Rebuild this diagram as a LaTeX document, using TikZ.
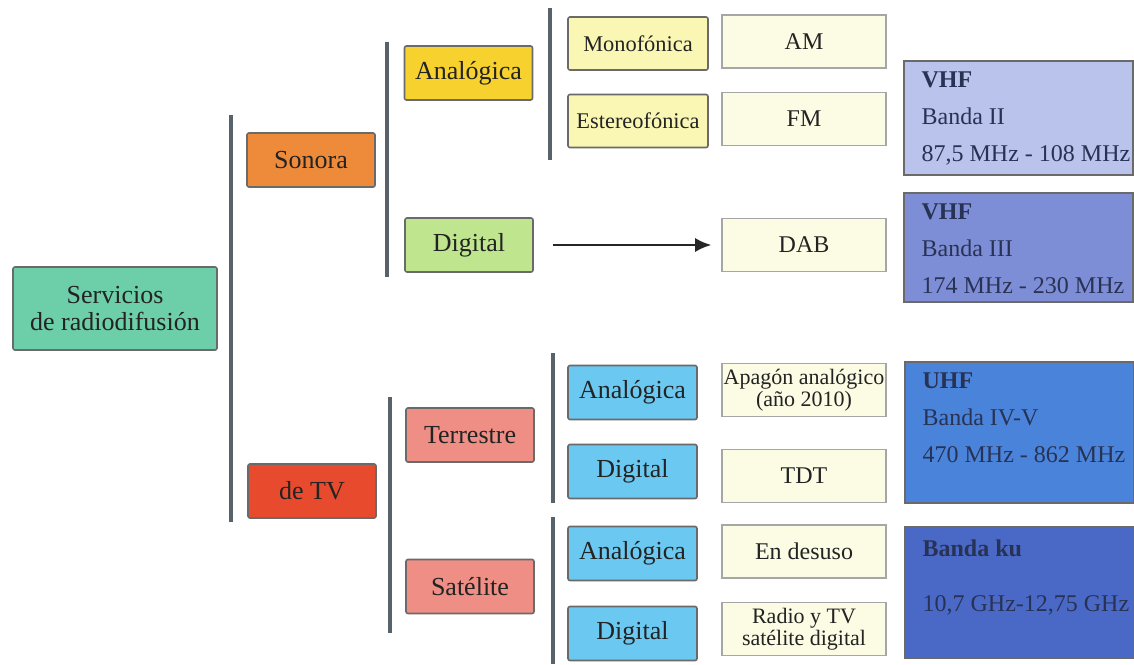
\documentclass[tikz,border=0pt]{standalone}
\usepackage{fontspec}
\setmainfont{Liberation Serif}
\usetikzlibrary{arrows.meta}
\definecolor{rootgreen}{RGB}{109,207,169}
\definecolor{sonoraorange}{RGB}{238,139,58}
\definecolor{tvred}{RGB}{232,74,46}
\definecolor{anayellow}{RGB}{247,209,46}
\definecolor{diggreen}{RGB}{191,230,143}
\definecolor{modeyellow}{RGB}{250,246,180}
\definecolor{paleyellow}{RGB}{252,251,227}
\definecolor{salmon}{RGB}{238,142,132}
\definecolor{kindblue}{RGB}{107,200,240}
\definecolor{vhfa}{RGB}{185,195,236}
\definecolor{vhfb}{RGB}{126,142,214}
\definecolor{uhfblue}{RGB}{74,132,218}
\definecolor{kublue}{RGB}{74,104,198}
\definecolor{boxline}{RGB}{106,106,106}
\definecolor{bracketgray}{RGB}{88,98,106}
\definecolor{textgray}{RGB}{35,35,35}
\definecolor{bandtext}{RGB}{40,50,85}
\begin{document}
\begin{tikzpicture}[x=0.5pt,y=-0.5pt]
        % styles
        \tikzstyle{box}=[draw=boxline, line width=0.8pt, rounded corners=1pt, inner sep=0pt, align=center, text=textgray]
        \tikzstyle{cat}=[box, minimum width=64pt, minimum height=27pt, font=\fontsize{13}{14}\selectfont]
        \tikzstyle{kind}=[box, fill=kindblue, minimum width=64.5pt, minimum height=27pt, font=\fontsize{13}{14}\selectfont]
        \tikzstyle{mode}=[box, fill=modeyellow, minimum width=70pt, minimum height=26.5pt, font=\fontsize{11.2}{12}\selectfont]
        \tikzstyle{result}=[box, draw=gray!70, rounded corners=0pt, fill=paleyellow, minimum width=82pt, minimum height=26.5pt, font=\fontsize{12}{11}\selectfont]
        \tikzstyle{band}=[draw=boxline, line width=0.8pt, minimum width=114.5pt, inner sep=0pt]
        \tikzstyle{bandtext}=[anchor=north west, inner sep=0pt, align=left, text=bandtext, font=\fontsize{12}{18.5}\selectfont]
        \tikzstyle{bracket}=[line width=2.4pt, draw=bracketgray]
        \tikzstyle{flow}=[-{Latex[length=8pt,width=7pt]}, line width=1pt, draw=black!85]

        \useasboundingbox (0,0) rectangle (1134,664);

        % root
        \node[box, fill=rootgreen, minimum width=102pt, minimum height=41.5pt, font=\fontsize{13}{13.5}\selectfont] (root) at (115,308.5) {Servicios\\de radiodifusión};

        % first level
        \node[cat, fill=sonoraorange] (sonora) at (311,160) {Sonora};
        \node[cat, fill=tvred] (tv) at (312,491) {de TV};

        % radio
        \node[cat, fill=anayellow] (radioAna) at (468.5,73) {Analógica};
        \node[cat, fill=diggreen] (radioDig) at (469,245) {Digital};
        \node[mode] (mono) at (638,43.5) {Monofónica};
        \node[mode] (stereo) at (638,121) {Estereofónica};
        \node[result] (am) at (804,41.5) {AM};
        \node[result] (fm) at (804,119) {FM};
        \node[result] (dab) at (804,245) {DAB};

        % television
        \node[cat, fill=salmon] (terr) at (470,435) {Terrestre};
        \node[cat, fill=salmon] (sat) at (470,586.5) {Satélite};
        \node[kind] (terrAna) at (632.5,392.5) {Analógica};
        \node[kind] (terrDig) at (632.5,471.5) {Digital};
        \node[kind] (satAna) at (632.5,553.5) {Analógica};
        \node[kind] (satDig) at (632.5,633.5) {Digital};
        \node[result, font=\fontsize{11}{11}\selectfont] (blackout) at (804,390) {Apagón analógico\\(año 2010)};
        \node[result] (tdt) at (804,476) {TDT};
        \node[result] (disuse) at (804,551.5) {En desuso};
        \node[result, font=\fontsize{11}{11}\selectfont] (sattv) at (804,629) {Radio y TV\\satélite digital};

        % frequency bands
        \node[band, fill=vhfa, minimum height=57pt] (vhf2) at (1018.5,118) {};
        \node[band, fill=vhfb, minimum height=54.5pt] (vhf3) at (1018.5,247.5) {};
        \node[band, fill=uhfblue, minimum height=70.5pt] (uhf) at (1019.5,432.5) {};
        \node[band, fill=kublue, minimum height=65.5pt] (ku) at (1019.5,592.5) {};
        \node[bandtext] (vhf2txt) at ([shift={(18,11)}]vhf2.north west) {\textbf{VHF}\\Banda II\\87,5 MHz - 108 MHz};
        \node[bandtext] (vhf3txt) at ([shift={(18,11)}]vhf3.north west) {\textbf{VHF}\\Banda III\\174 MHz - 230 MHz};
        \node[bandtext] (uhftxt) at ([shift={(18,11)}]uhf.north west) {\textbf{UHF}\\Banda IV-V\\470 MHz - 862 MHz};
        \node[bandtext] (kutxt) at ([shift={(18,13)}]ku.north west) {\textbf{Banda ku}\\[9pt]10,7 GHz-12,75 GHz};

        % brackets
        \draw[bracket] (231,115) -- (231,522);
        \draw[bracket] (387,42) -- (387,277);
        \draw[bracket] (550,8) -- (550,160);
        \draw[bracket] (390,397) -- (390,633);
        \draw[bracket] (553,353) -- (553,503);
        \draw[bracket] (553,517) -- (553,664);

        % arrow
        \draw[flow, shorten <=9.5pt, shorten >=5pt] (radioDig) -- (dab);
\end{tikzpicture}
\end{document}
